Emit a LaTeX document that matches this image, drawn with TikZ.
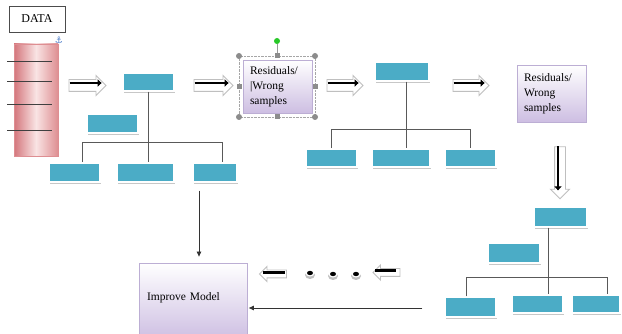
\documentclass[tikz,border=0pt]{standalone}
\usepackage{fontspec}
\setmainfont{Liberation Serif}
\newfontfamily\symbolfont{DejaVu Sans}
\usetikzlibrary{arrows.meta,shapes.arrows,shadows,positioning}

\definecolor{leafblue}{RGB}{75,172,198}
\definecolor{lavender}{RGB}{205,190,226}
\definecolor{lavenderline}{RGB}{188,174,212}
\definecolor{datared}{RGB}{212,118,124}
\definecolor{dataedge}{RGB}{222,142,146}
\definecolor{datapink}{RGB}{249,228,228}
\definecolor{handlegray}{RGB}{140,140,140}
\definecolor{anchorblue}{RGB}{70,120,200}
\definecolor{rotategreen}{RGB}{40,200,40}

\tikzset{
  leaf/.style={rectangle, fill=leafblue, draw=white, line width=1.5pt, inner sep=0pt,
    minimum height=18pt,
    drop shadow={shadow xshift=1pt, shadow yshift=-2pt, fill=black!22, opacity=1}},
  residual/.style={rectangle, draw=lavenderline, line width=0.8pt, top color=white,
    bottom color=lavender, align=left, inner xsep=7pt,
    font=\fontsize{11.5}{15}\selectfont},
  treeline/.style={draw=black!65, line width=0.8pt},
  hollowarrow/.style={single arrow, draw=black!25, fill=white, line width=0.9pt,
    inner sep=5.5pt, single arrow head extend=4pt},
  blackbar/.style={line width=2.6pt, black},
  thinarrow/.style={draw=black!80, line width=0.8pt, -{Triangle[length=5pt,width=4.5pt]}},
  handle/.style={fill=handlegray, inner sep=0pt},
}

\begin{document}
\begin{tikzpicture}[x=1pt,y=-1pt]
  \useasboundingbox (0,0) rectangle (622,334);
  \fill[white] (0,0) rectangle (622,334);

  % Data column
  \node[draw=dataedge, line width=0.6pt, left color=datared, right color=dataedge,
    middle color=datapink, minimum width=44pt, minimum height=112pt] (column) at (36,100) {};
  \draw[black!75, line width=0.8pt] (7,61) -- (52,61);
  \draw[black!75, line width=0.8pt] (7,81) -- (52,81);
  \draw[black!75, line width=0.8pt] (7,104) -- (52,104);
  \draw[black!75, line width=0.8pt] (7,130) -- (52,130);
  \node[draw=black!70, line width=0.8pt, minimum width=56pt, minimum height=26pt,
    font=\fontsize{12}{14}\selectfont] (data) at (37,19) {DATA};
  \node[text=anchorblue, inner sep=0pt, font=\symbolfont\fontsize{9}{9}\selectfont] (anchor) at (59,40) {⚓};

  % Block arrows to the right
  \node[hollowarrow, minimum height=37pt] (fore1) at (84.5,85.5) {};
  \draw[blackbar, -{Triangle[length=4pt,width=7pt]}] ([xshift=1pt,yshift=2.5pt]fore1.tail) -- ([xshift=-5pt,yshift=2.5pt]fore1.tip);
  \node[hollowarrow, minimum height=39pt] (fore2) at (210.5,85.5) {};
  \draw[blackbar, -{Triangle[length=4pt,width=7pt]}] ([xshift=1pt,yshift=2.5pt]fore2.tail) -- ([xshift=-5pt,yshift=2.5pt]fore2.tip);
  \node[hollowarrow, minimum height=36pt] (fore3) at (342,85.5) {};
  \draw[blackbar, -{Triangle[length=4pt,width=7pt]}] ([xshift=1pt,yshift=2.5pt]fore3.tail) -- ([xshift=-5pt,yshift=2.5pt]fore3.tip);
  \node[hollowarrow, minimum height=36pt] (fore4) at (468,85.5) {};
  \draw[blackbar, -{Triangle[length=4pt,width=7pt]}] ([xshift=1pt,yshift=2.5pt]fore4.tail) -- ([xshift=-5pt,yshift=2.5pt]fore4.tip);

  % First tree
  \node[leaf, minimum width=51pt] (top1) at (148.5,82) {};
  \node[leaf, minimum width=51pt, minimum height=19pt] (mid1) at (112.5,123.5) {};
  \node[leaf, minimum width=51pt, minimum height=19pt] (low1a) at (74.5,172.5) {};
  \node[leaf, minimum width=57pt, minimum height=19pt] (low1b) at (145.5,172.5) {};
  \node[leaf, minimum width=44pt, minimum height=19pt] (low1c) at (215,172.5) {};
  \draw[treeline] (top1.south) -- (top1.south |- low1b.north);
  \draw[treeline] ([xshift=7.5pt]low1a.north) -- ++(0,-20) -| ([xshift=7pt]low1c.north);

  % First residual box with its selection handles
  \draw[black!35, densely dotted] (239,56) rectangle (315,117);
  \node[residual, text width=55pt, minimum height=53pt] (resid1) at (277.5,86.5) {Residuals/\\|Wrong\\samples};
  \node[handle, circle, minimum size=6pt] (hnw) at (239,56) {};
  \node[handle, circle, minimum size=6pt] (hne) at (315,56) {};
  \node[handle, circle, minimum size=6pt] (hsw) at (239,117) {};
  \node[handle, circle, minimum size=6pt] (hse) at (315,117) {};
  \node[handle, minimum size=5pt] (hn) at (277,56) {};
  \node[handle, minimum size=5pt] (hs) at (277,117) {};
  \node[handle, minimum size=5pt] (hw) at (239,87) {};
  \node[handle, minimum size=5pt] (he) at (315,87) {};
  \node[circle, fill=rotategreen, inner sep=0pt, minimum size=6pt] (hrot) at (277,41) {};
  \draw[black!40, line width=0.6pt] (hrot) -- (hn);

  % Second tree
  \node[leaf, minimum width=54pt, minimum height=19pt] (top2) at (402,71.5) {};
  \node[leaf, minimum width=51pt] (low2a) at (331.5,158) {};
  \node[leaf, minimum width=58pt] (low2b) at (401,158) {};
  \node[leaf, minimum width=51pt] (low2c) at (470.5,158) {};
  \draw[treeline] ([xshift=4pt]top2.south) -- ([xshift=4pt]top2.south |- low2b.north);
  \draw[treeline] (low2a.north) -- ++(0,-19) -| (low2c.north);

  % Second residual box and arrow down
  \node[residual, text width=55pt, minimum height=57pt] (resid2) at (551.5,93.5) {Residuals/\\Wrong\\samples};
  \node[hollowarrow, shape border rotate=270, minimum height=52pt, inner sep=5pt] (down) at (560,170) {};
  \draw[blackbar, -{Triangle[length=4pt,width=7pt]}] ([xshift=-2pt]down.tail) -- ([xshift=-2pt,yshift=9pt]down.tip);

  % Third tree
  \node[leaf, minimum width=53pt, minimum height=20pt] (top3) at (560.5,217) {};
  \node[leaf, minimum width=52pt, minimum height=20pt] (mid3) at (514,253) {};
  \node[leaf, minimum width=51pt, minimum height=20pt] (low3a) at (470.5,307) {};
  \node[leaf, minimum width=51pt] (low3b) at (537.5,304) {};
  \node[leaf, minimum width=48pt] (low3c) at (596,304) {};
  \draw[treeline] ([xshift=-12.5pt]top3.south) -- ([xshift=-12.5pt]top3.south |- low3b.north);
  \draw[treeline] ([xshift=-4.5pt]low3a.north) -- ++(0,-19) -| ([xshift=11pt]low3c.north);

  % Improve model
  \node[residual, text width=92pt, inner xsep=8pt, minimum height=77pt] (improve) at (193,301.5)
    {\raisebox{9.5pt}{Improve Model}};
  \coordinate (dropstart) at ([xshift=-16pt]low1c.south);
  \draw[thinarrow, shorten <=8pt, shorten >=6pt] (dropstart) -- (dropstart |- improve.north);
  \coordinate (loopstart) at ([xshift=-22pt,yshift=-1pt]low3a.west);
  \draw[thinarrow, shorten >=1.5pt] (loopstart) -- (loopstart -| improve.east);

  % Arrows back and dots
  \node[hollowarrow, shape border rotate=180, minimum height=27pt, inner sep=3.5pt,
    single arrow head extend=3.5pt] (back1) at (275,274) {};
  \draw[blackbar, line width=2.4pt] ([xshift=4pt,yshift=1.5pt]back1.tip) -- ([xshift=-2pt,yshift=1.5pt]back1.tail);
  \node[hollowarrow, shape border rotate=180, minimum height=27pt, inner sep=3.5pt,
    single arrow head extend=3.5pt] (back2) at (388.5,272.5) {};
  \draw[blackbar, line width=2.4pt] ([xshift=3pt,yshift=2pt]back2.tip) -- ([xshift=-4pt,yshift=2pt]back2.tail);

  \fill[black!25] (310,275) ellipse [x radius=5pt, y radius=4pt];
  \fill[white] (310,273) ellipse [x radius=4.5pt, y radius=3.5pt];
  \fill (310,273) ellipse [x radius=3pt, y radius=2.2pt];
  \fill[black!25] (333,276) ellipse [x radius=5pt, y radius=4pt];
  \fill[white] (333,274) ellipse [x radius=4.5pt, y radius=3.5pt];
  \fill (333,274) ellipse [x radius=3pt, y radius=2.2pt];
  \fill[black!25] (356,276) ellipse [x radius=5pt, y radius=4pt];
  \fill[white] (356,274) ellipse [x radius=4.5pt, y radius=3.5pt];
  \fill (356,274) ellipse [x radius=3pt, y radius=2.2pt];
\end{tikzpicture}
\end{document}
